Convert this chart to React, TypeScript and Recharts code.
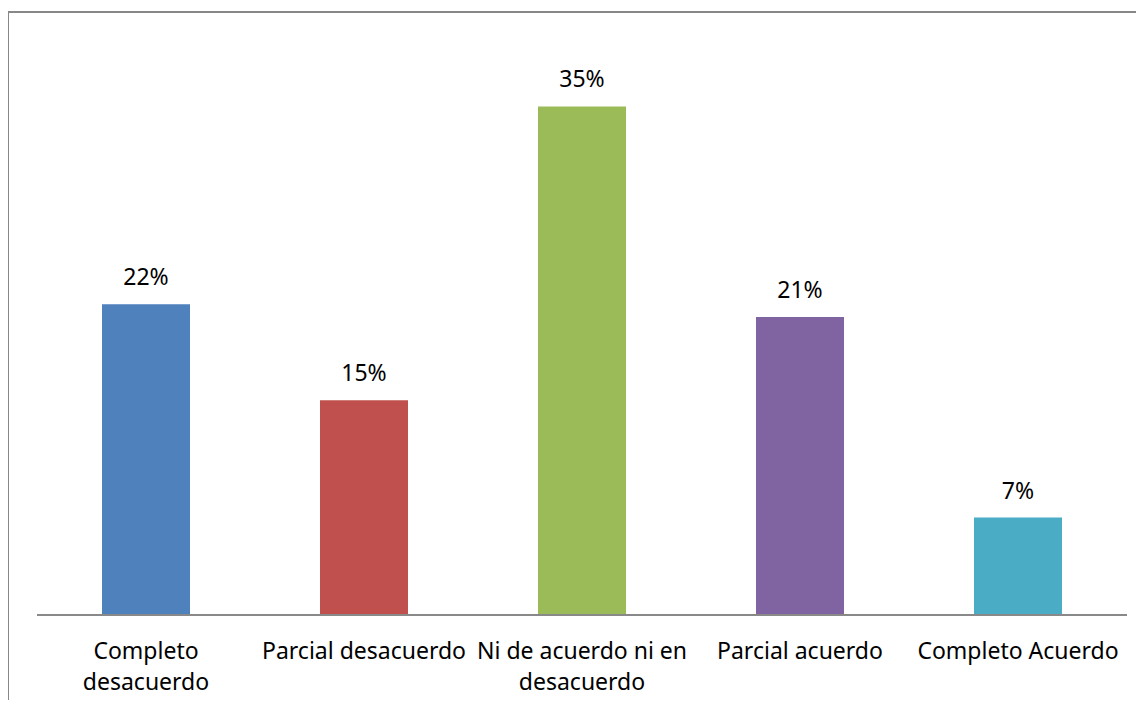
import React from "react";
import { BarChart, Bar, XAxis, YAxis, Cell, LabelList } from "recharts";

const categories = [
  "Completo\ndesacuerdo",
  "Parcial desacuerdo",
  "Ni de acuerdo ni en\ndesacuerdo",
  "Parcial acuerdo",
  "Completo Acuerdo",
];
const values = [0.217, 0.15, 0.355, 0.208, 0.068];
const valueLabels = ["22%", "15%", "35%", "21%", "7%"];
const colors = ["#4F81BD", "#C0504D", "#9BBB59", "#8064A2", "#4BACC6"];

const data = categories.map((c, i) => ({ name: c, value: values[i], label: valueLabels[i] }));

const FONT = "'Noto Sans', 'Open Sans', sans-serif";

const Tick = (props: any) => {
  const { x, y, payload } = props;
  const lines = String(payload.value).split("\n");
  return (
    <text x={x} y={y} textAnchor="middle" fill="#000" fontFamily={FONT} fontSize={23}>
      {lines.map((l: string, i: number) => (
        <tspan key={i} x={x} dy={i === 0 ? 44 : 31}>
          {l}
        </tspan>
      ))}
    </text>
  );
};

const TopLabel = (props: any) => {
  const { x, y, width, value } = props;
  return (
    <text x={x + width / 2} y={y - 19} textAnchor="middle" fill="#000" fontFamily={FONT} fontSize={23}>
      {value}
    </text>
  );
};

export default function App() {
  return (
    <div style={{ position: "relative", width: 1144, height: 708, margin: -8, background: "#fff", overflow: "hidden" }}>
      <div
        style={{
          position: "absolute",
          left: 7,
          top: 11,
          width: 1200,
          height: 800,
          borderTop: "2px solid #888",
          borderLeft: "2px solid #888",
        }}
      />
      <div style={{ position: "absolute", left: 0, top: 0 }}>
        <BarChart width={1144} height={708} data={data} margin={{ top: 42, right: 17, bottom: 0, left: 37 }} barSize={88}>
          <YAxis hide domain={[0, 0.4]} />
          <XAxis
            dataKey="name"
            axisLine={{ stroke: "#898989", strokeWidth: 2 }}
            tickLine={false}
            tickSize={0}
            tickMargin={0}
            height={93}
            interval={0}
            tick={<Tick />}
          />
          <Bar dataKey="value" isAnimationActive={false}>
            {data.map((d, i) => (
              <Cell key={i} fill={colors[i]} />
            ))}
            <LabelList dataKey="label" content={<TopLabel />} />
          </Bar>
        </BarChart>
      </div>
    </div>
  );
}
